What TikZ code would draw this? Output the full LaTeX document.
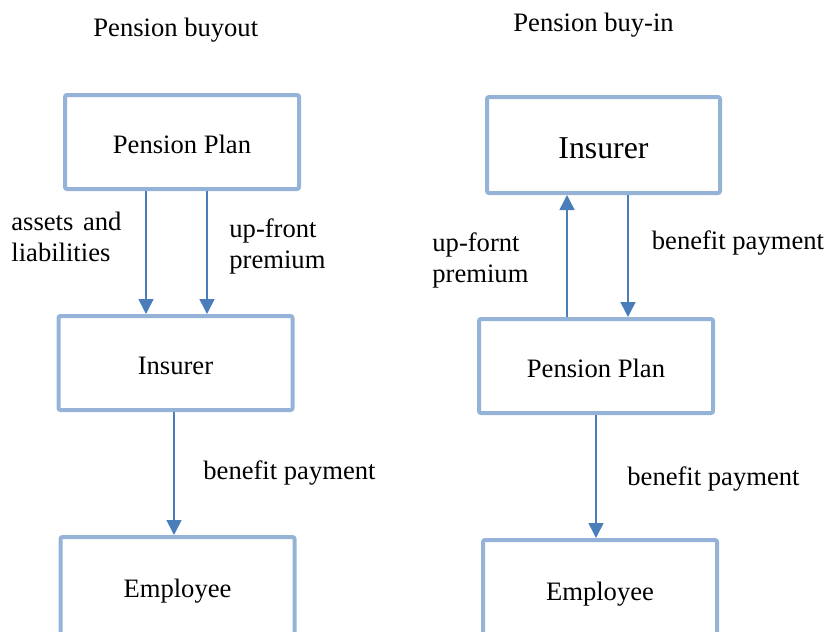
\documentclass[tikz,border=0pt]{standalone}
\usepackage{fontspec}
\setmainfont{Liberation Serif}
\usetikzlibrary{arrows.meta}
\definecolor{boxblue}{HTML}{95B3D7}
\definecolor{arrowblue}{HTML}{4A7EBB}
\tikzset{
  box/.style={draw=boxblue, line width=2pt, rounded corners=1pt, fill=white,
    minimum width=117pt, minimum height=47pt, inner sep=0pt,
    text height=11pt, text depth=0pt, font=\fontsize{13.3}{15.5}\selectfont},
  bigbox/.style={box, text height=13pt, font=\fontsize{15.9}{18}\selectfont},
  arr/.style={draw=arrowblue, line width=0.8pt, -{Triangle[width=7.5pt,length=7.5pt]}},
  lbl/.style={anchor=base west, inner sep=0pt, font=\fontsize{13.3}{15.5}\selectfont},
}
\begin{document}
\begin{tikzpicture}[x=0.5pt, y=-0.5pt]
\useasboundingbox (0,0) rectangle (825,632);
\clip (0,0) rectangle (825,632);
% titles
\node[lbl] (t1) at (93,36.7) {Pension buyout};
\node[lbl] (t2) at (513,31) {Pension buy-in};
% left column
\node[box] (lpp) at (182,142) {Pension Plan};
\node[box] (lins) at (175.5,363) {Insurer};
\node[box, minimum height=49pt] (lemp) at (177.5,586) {Employee};
% right column
\node[bigbox, minimum height=48pt, minimum width=116.5pt] (rins) at (603.5,145) {Insurer};
\node[box] (rpp) at (596,366) {Pension Plan};
\node[box, minimum height=49pt] (remp) at (600,589) {Employee};
% left arrows
\draw[arr] ([xshift=-18pt]lpp.south) -- ([xshift=-18pt]lpp.south |- lins.north);
\draw[arr] ([xshift=12.5pt]lpp.south) -- ([xshift=12.5pt]lpp.south |- lins.north);
\draw[arr] ([xshift=-0.75pt]lins.south) -- ([xshift=-0.75pt]lins.south |- lemp.north);
% right arrows
\draw[arr] ([xshift=-14.5pt]rpp.north) -- ([xshift=-14.5pt]rpp.north |- rins.south);
\draw[arr] ([xshift=12.25pt]rins.south) -- ([xshift=12.25pt]rins.south |- rpp.north);
\draw[arr] (rpp.south) -- (rpp.south |- remp.north);
% labels
\node[lbl] (l1) at (11,230) {\begin{tabular}[t]{@{}l@{}}assets\hspace{1.5pt}\ and\\ liabilities\end{tabular}};
\node[lbl] (l2) at (229,237) {\begin{tabular}[t]{@{}l@{}}up-front\\ premium\end{tabular}};
\node[lbl] (l3) at (203,479) {benefit payment};
\node[lbl] (r1) at (432,251.7) {\begin{tabular}[t]{@{}l@{}}up-fornt\\ premium\end{tabular}};
\node[lbl] (r2) at (651.5,249) {benefit payment};
\node[lbl] (r3) at (627,485) {benefit payment};
\end{tikzpicture}
\end{document}
